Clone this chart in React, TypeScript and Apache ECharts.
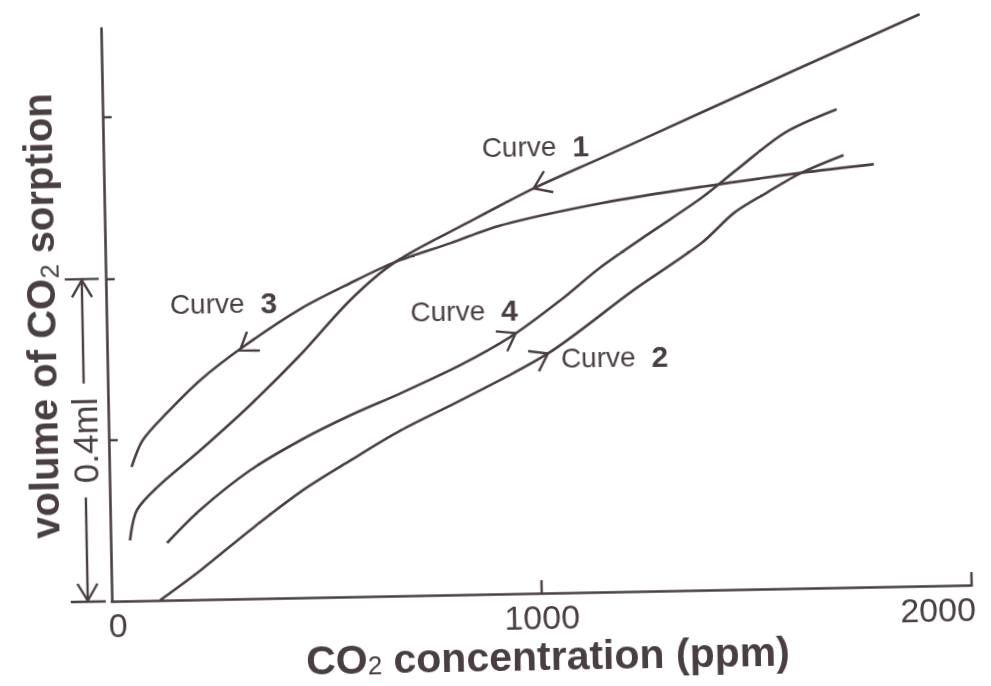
import React, { useEffect, useRef } from "react";
import * as echarts from "echarts";

// ---------- data ----------
const xAxisLabels = [0, 1000, 2000];
const xAxisTicks = [1000, 2000];
const yAxisTicks = [0.2, 0.4, 0.6];

const curve1X = [45, 62, 110, 212, 330, 449, 568, 674, 844, 999, 1157, 1392, 1627, 1904];
const curve1Y = [0.075, 0.112, 0.14, 0.185, 0.24, 0.301, 0.368, 0.414, 0.461, 0.502, 0.538, 0.592, 0.646, 0.709];

const curve2X = [112, 207, 325, 443, 561, 679, 820, 1025, 1228, 1386, 1464, 1540, 1622, 1721];
const curve2Y = [0, 0.036, 0.085, 0.131, 0.169, 0.205, 0.241, 0.297, 0.374, 0.43, 0.467, 0.491, 0.515, 0.536];

const curve3X = [52, 79, 136, 215, 321, 451, 569, 674, 803, 921, 1155, 1389, 1622, 1791];
const curve3Y = [0.166, 0.199, 0.232, 0.272, 0.314, 0.358, 0.389, 0.414, 0.436, 0.457, 0.482, 0.5, 0.515, 0.524];

const curve4X = [131, 209, 327, 445, 563, 680, 822, 946, 1057, 1152, 1270, 1388, 1471, 1585, 1707];
const curve4Y = [0.071, 0.111, 0.159, 0.195, 0.225, 0.251, 0.285, 0.321, 0.363, 0.403, 0.445, 0.486, 0.52, 0.565, 0.593];

const curveNames = ["Curve 1", "Curve 2", "Curve 3", "Curve 4"];
const curveNumbers = ["1", "2", "3", "4"];
const curveLabelX = [880, 1055, 148, 707];
const curveLabelY = [0.554, 0.291, 0.366, 0.351];
const arrowTipX = [999, 1025, 309, 951];
const arrowTipY = [0.502, 0.297, 0.308, 0.323];
const arrowTailX = [1157, 820, 451, 822];
const arrowTailY = [0.538, 0.241, 0.358, 0.285];

const spanFrom = 0;
const spanTo = 0.4;
const spanText = "0.4ml";

const xName = "CO{s|2} concentration (ppm)";
const yName = "volume of CO{s|2} sorption";

// ---------- styles ----------
const INK = "#4a3f40";
const FONT = '"Liberation Sans", Arial, Helvetica, sans-serif';

export default function App() {
  const ref = useRef<HTMLDivElement>(null);

  useEffect(() => {
    if (!ref.current) return;
    const chart = echarts.init(ref.current, null, { renderer: "svg" });

    const curvesX = [curve1X, curve2X, curve3X, curve4X];
    const curvesY = [curve1Y, curve2Y, curve3Y, curve4Y];

    const series = curvesX.map((xs, i) => ({
      type: "line",
      name: curveNames[i],
      data: xs.map((x, j) => [x, curvesY[i][j]]),
      showSymbol: false,
      symbol: "none",
      smooth: 0.3,
      clip: false,
      silent: true,
      lineStyle: { color: INK, width: 2.6 },
    }));

    chart.setOption({
      animation: false,
      backgroundColor: "#ffffff",
      grid: { left: 107, right: 24, top: 21, bottom: 92, outerBoundsMode: "none" },
      xAxis: {
        type: "value",
        min: 0,
        max: 2000,
        interval: 1000,
        name: xName,
        nameLocation: "middle",
        nameGap: 44,
        nameMoveOverlap: false,
        nameTextStyle: {
          color: INK,
          fontFamily: FONT,
          fontSize: 41,
          fontWeight: "bold",
          lineHeight: 38,
          padding: [0, 0, 0, 10],
          rich: {
            s: { fontSize: 26, lineHeight: 20, verticalAlign: "bottom", fontWeight: "normal", color: INK, fontFamily: FONT },
          },
        },
        axisLine: { show: true, onZero: false, lineStyle: { color: INK, width: 2.6 } },
        axisTick: { show: true, inside: true, length: 13, customValues: xAxisTicks, lineStyle: { color: INK, width: 2.4 } },
        axisLabel: {
          customValues: xAxisLabels,
          color: INK,
          fontFamily: FONT,
          fontSize: 34,
          lineHeight: 30,
          margin: 9,
          formatter: (v: number) => (v === xAxisLabels[0] ? "{l|" + v + "}" : v === xAxisLabels[xAxisLabels.length - 1] ? "{r|" + v + "}" : String(v)),
          rich: {
            l: { fontSize: 34, lineHeight: 30, fontFamily: FONT, color: INK, padding: [0, 0, 0, 12] },
            r: { fontSize: 34, lineHeight: 30, fontFamily: FONT, color: INK, padding: [0, 68, 0, 0] },
          },
        },
        splitLine: { show: false },
      },
      yAxis: {
        type: "value",
        min: 0,
        max: 0.7105,
        interval: 0.2,
        name: yName,
        nameLocation: "middle",
        nameRotate: 90,
        nameGap: 43,
        nameMoveOverlap: false,
        nameTextStyle: {
          color: INK,
          fontFamily: FONT,
          fontSize: 40,
          fontWeight: "bold",
          lineHeight: 44,
          rich: {
            s: { fontSize: 26, lineHeight: 26, verticalAlign: "bottom", fontWeight: "normal", color: INK, fontFamily: FONT },
          },
        },
        axisLine: { show: true, onZero: false, lineStyle: { color: INK, width: 2.6 } },
        axisTick: { show: true, inside: true, length: 9, customValues: yAxisTicks, lineStyle: { color: INK, width: 2.4 } },
        axisLabel: { show: false },
        splitLine: { show: false },
      },
      series,
    });

    const px = (x: number, y: number) => chart.convertToPixel({ gridIndex: 0 }, [x, y]) as number[];

    const graphics: any[] = [];

    // arrows on the curves
    const armLen = 20;
    const armAng = (35 * Math.PI) / 180;
    for (let i = 0; i < arrowTipX.length; i++) {
      const tip = px(arrowTipX[i], arrowTipY[i]);
      const tail = px(arrowTailX[i], arrowTailY[i]);
      let dx = tail[0] - tip[0];
      let dy = tail[1] - tip[1];
      const len = Math.hypot(dx, dy) || 1;
      dx /= len;
      dy /= len;
      const rot = (a: number) => [
        tip[0] + armLen * (dx * Math.cos(a) - dy * Math.sin(a)),
        tip[1] + armLen * (dx * Math.sin(a) + dy * Math.cos(a)),
      ];
      graphics.push({
        type: "polyline",
        silent: true,
        shape: { points: [rot(armAng), tip, rot(-armAng)] },
        style: { stroke: INK, lineWidth: 2.4, fill: null },
        z: 10,
      });
    }

    // curve labels
    for (let i = 0; i < curveLabelX.length; i++) {
      const p = px(curveLabelX[i], curveLabelY[i]);
      graphics.push({
        type: "text",
        silent: true,
        x: p[0],
        y: p[1],
        style: {
          text: "{a|Curve}{b|" + curveNumbers[i] + "}",
          align: "left",
          verticalAlign: "middle",
          fill: INK,
          rich: {
            a: { fontSize: 28, fontFamily: FONT, fill: INK, color: INK },
            b: { fontSize: 30, fontWeight: "bold", fontFamily: FONT, fill: INK, color: INK, padding: [0, 0, 0, 16] },
          },
        },
        z: 10,
      });
    }

    // 0.4 ml span marker left of the y axis
    const base = px(0, spanFrom);
    const top = px(0, spanTo);
    const mid = px(0, (spanFrom + spanTo) / 2);
    const lx = base[0] - 24;
    const half = 57;
    const seg = (x1: number, y1: number, x2: number, y2: number) => ({
      type: "line",
      silent: true,
      shape: { x1, y1, x2, y2 },
      style: { stroke: INK, lineWidth: 2.4 },
    });
    graphics.push(seg(lx, top[1], lx, mid[1] - half));
    graphics.push(seg(lx, mid[1] + half, lx, base[1]));
    graphics.push(seg(lx - 17, top[1], lx + 17, top[1]));
    graphics.push(seg(lx - 17, base[1], lx + 18, base[1]));
    graphics.push({
      type: "polyline",
      silent: true,
      shape: { points: [[lx - 10, top[1] + 18], [lx, top[1] + 1], [lx + 10, top[1] + 18]] },
      style: { stroke: INK, lineWidth: 2.4, fill: null },
    });
    graphics.push({
      type: "polyline",
      silent: true,
      shape: { points: [[lx - 10, base[1] - 18], [lx, base[1] - 1], [lx + 10, base[1] - 18]] },
      style: { stroke: INK, lineWidth: 2.4, fill: null },
    });
    graphics.push({
      type: "text",
      silent: true,
      x: lx,
      y: mid[1],
      rotation: Math.PI / 2,
      style: {
        text: spanText,
        align: "center",
        verticalAlign: "middle",
        fontSize: 35,
        fontFamily: FONT,
        fill: INK,
      },
    });

    chart.setOption({ graphic: { elements: graphics } });

    return () => chart.dispose();
  }, []);

  return (
    <div
      ref={ref}
      style={{
        position: "fixed",
        left: 0,
        top: 0,
        width: 991,
        height: 686,
        background: "#ffffff",
        transform: "rotate(-1.08deg)",
        transformOrigin: "50% 50%",
      }}
    />
  );
}
